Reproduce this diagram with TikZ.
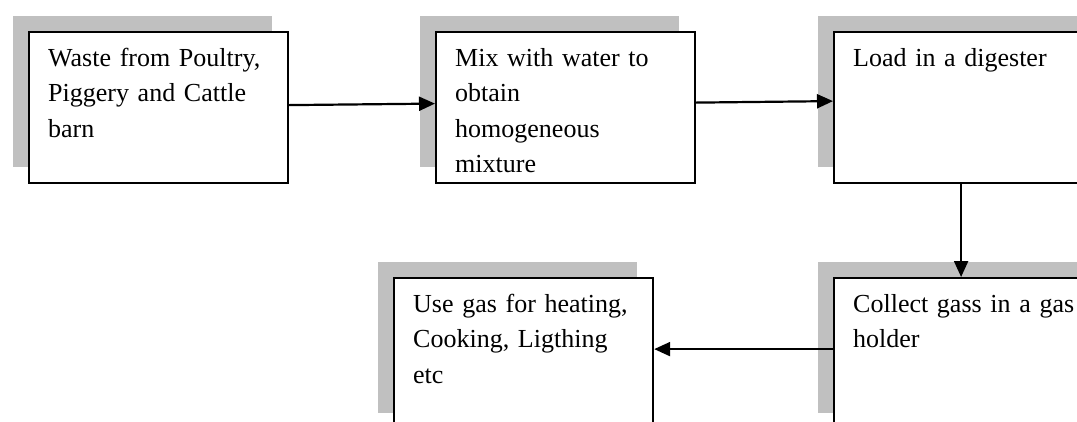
\documentclass[tikz,border=0pt]{standalone}
\usepackage{fontspec}
\setmainfont{Liberation Serif}
\usetikzlibrary{arrows.meta,shadows}
\definecolor{shadowgray}{RGB}{192,192,192}
\tikzset{
  procbox/.style={draw=black, line width=2.2pt, fill=white, anchor=north west,
    minimum width=259pt, minimum height=151pt, inner sep=0pt,
    general shadow={fill=shadowgray, shadow xshift=-16pt, shadow yshift=16pt}},
  boxtext/.style={anchor=base west, align=left, inner sep=0pt, text width=235pt,
    font=\fontsize{26}{35.5}\selectfont},
  arr/.style={line width=2.2pt, -{Triangle[length=16pt,width=14pt]}}
}
\begin{document}
\begin{tikzpicture}[x=1pt,y=-1pt]
\useasboundingbox (0,0) rectangle (1077,421);
\clip (0,0) rectangle (1077,421);
\fill[white] (0,0) rectangle (1077,421);
% boxes
\node[procbox] (b1) at (28,31) {};
\node[procbox] (b2) at (435,31) {};
\node[procbox] (b3) at (833,31) {};
\node[procbox] (b4) at (833,277) {};
\node[procbox] (b5) at (393,277) {};
% texts
\node[boxtext] (t1) at ([shift={(20pt,-35pt)}]b1.north west) {Waste from Poultry,\\Piggery and Cattle\\barn};
\node[boxtext] (t2) at ([shift={(20pt,-35pt)}]b2.north west) {Mix with water to\\obtain\\homogeneous\\mixture};
\node[boxtext] (t3) at ([shift={(20pt,-35pt)}]b3.north west) {Load in a digester};
\node[boxtext] (t4) at ([shift={(20pt,-35pt)}]b4.north west) {Collect gass in a gas\\holder};
\node[boxtext] (t5) at ([shift={(20pt,-35pt)}]b5.north west) {Use gas for heating,\\Cooking, Ligthing\\etc};
% connectors
\draw[arr] ([yshift=2.5pt]b1.east) -- ([yshift=4pt]b2.west);
\draw[arr] ([yshift=5pt]b2.east) -- ([yshift=6.5pt]b3.west);
\draw[arr] ([xshift=-2.5pt]b3.south) -- ([xshift=-2.5pt]b4.north);
\draw[arr] ([yshift=4.5pt]b4.west) -- ([yshift=4.5pt]b5.east);
\end{tikzpicture}
\end{document}
